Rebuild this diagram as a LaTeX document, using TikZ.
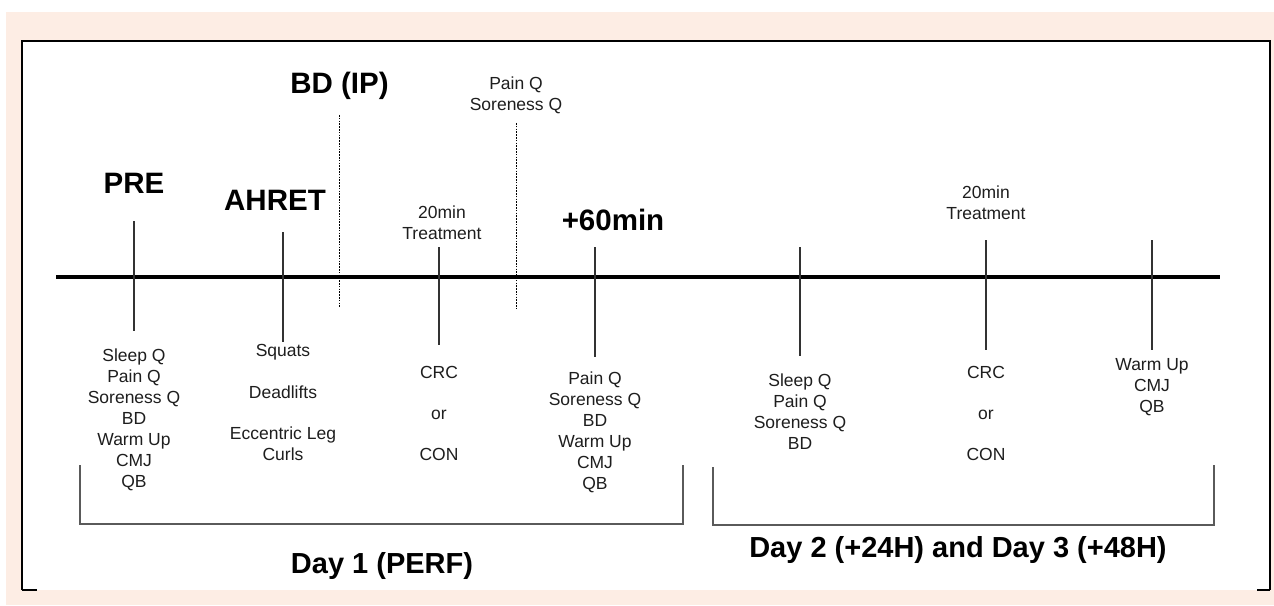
\documentclass[tikz,border=0pt]{standalone}
\usepackage{fontspec}
\setmainfont{Liberation Sans}
\definecolor{peach}{RGB}{253,237,228}
\definecolor{txt}{RGB}{30,30,30}
\definecolor{tick}{RGB}{50,50,50}
\definecolor{brk}{RGB}{90,90,90}
\tikzset{
  lbl/.style={font=\fontsize{17.5}{21}\selectfont, text=txt, align=center, inner sep=0pt},
  big/.style={font=\fontsize{29.5}{32}\selectfont\bfseries, text=black, inner sep=0pt, anchor=base},
  daylbl/.style={font=\fontsize{29}{32}\selectfont\bfseries, text=black, inner sep=0pt, anchor=base},
  ticks/.style={draw=tick, line width=1.2pt},
  dots/.style={draw=black, line width=0.9pt, dash pattern=on 1.6pt off 1.2pt},
  bracket/.style={draw=brk, line width=1.5pt},
  mainline/.style={draw=black, line width=3.2pt},
}
\begin{document}
\begin{tikzpicture}[x=1pt, y=-1pt]
\useasboundingbox (0,0) rectangle (1274,605);
% background
\fill[peach] (6,12) rectangle (1274,605);
\fill[white] (22,41) rectangle (1270,590);
\draw[black, line width=1.6pt] (22,590) -- (22,41) -- (1270,41) -- (1270,590);
\draw[black, line width=1.6pt] (22,590) -- (37,590);
\draw[black, line width=1.6pt] (1257,590) -- (1270,590);
% timeline
\draw[mainline] (56,277) -- (1220,277);
% ticks
\draw[ticks] (134,221) -- (134,331);
\draw[ticks] (283,232) -- (283,342);
\draw[ticks] (439,247) -- (439,345);
\draw[ticks] (595,247) -- (595,357);
\draw[ticks] (800,247) -- (800,356);
\draw[ticks] (986,240) -- (986,350);
\draw[ticks] (1152,240) -- (1152,350);
% dotted
\draw[dots] (339,115) -- (339,308);
\draw[dots] (516,123) -- (516,308);
% bold labels
\node[big] (pre) at (134,193) {PRE};
\node[big] (ahret) at (275,210) {AHRET};
\node[big] (bdip) at (339.5,93) {BD (IP)};
\node[big] (p60) at (613,230) {+60min};
\node[daylbl] (day1) at (382,573) {Day 1 (PERF)};
\node[daylbl] (day2) at (958,557) {Day 2 (+24H) and Day 3 (+48H)};
% small labels
\node[lbl] (pretxt) at (134,420) {Sleep Q\\Pain Q\\Soreness Q\\BD\\Warm Up\\CMJ\\QB};
\node[lbl] (ahtxt) at (283,402) {Squats\\[21pt]Deadlifts\\[20pt]Eccentric Leg\\Curls};
\node[lbl] (tr1) at (442,223) {20min\\Treatment};
\node[lbl] (crc1) at (439,413) {CRC\\[20pt]or\\[20pt]CON};
\node[lbl] (pq) at (516,95) {Pain Q\\Soreness Q};
\node[lbl] (p60txt) at (595,432) {Pain Q\\Soreness Q\\BD\\Warm Up\\CMJ\\QB};
\node[lbl] (d2txt) at (800,412) {Sleep Q\\Pain Q\\Soreness Q\\BD};
\node[lbl] (tr2) at (986,203) {20min\\Treatment};
\node[lbl] (crc2) at (986,413) {CRC\\[20pt]or\\[20pt]CON};
\node[lbl] (wutxt) at (1152,387) {Warm Up\\CMJ\\QB};
% brackets
\draw[bracket] (80,465) -- (80,524) -- (683,524) -- (683,465);
\draw[bracket] (713,467) -- (713,525) -- (1214,525) -- (1214,465);
\end{tikzpicture}
\end{document}
